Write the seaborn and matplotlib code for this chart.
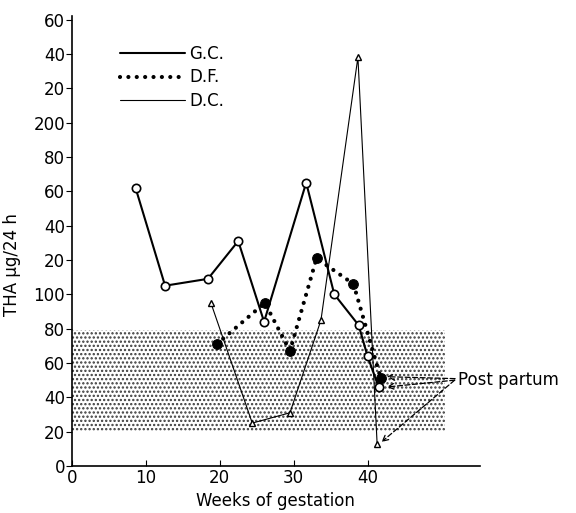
import numpy as np
import pandas as pd
import matplotlib
matplotlib.use("Agg")
import matplotlib.pyplot as plt
from matplotlib.lines import Line2D
from matplotlib.patches import Rectangle
import seaborn as sns

# weeks of gestation / THA (ug per 24 h)
gc_weeks = [8.6, 12.6, 18.4, 22.5, 26.0, 31.7, 35.5, 38.8, 40.0, 41.5]
gc_tha = [162, 105, 109, 131, 84, 165, 100, 82, 64, 46]

df_weeks = [19.6, 26.1, 29.5, 33.1, 38.1, 41.8]
df_tha = [71, 95, 67, 121, 106, 51]

dc_weeks = [18.8, 24.4, 29.5, 33.7, 38.7, 41.3]
dc_tha = [95, 25, 31, 85, 238, 13]

# normal range band
normal_low, normal_high = 20, 79
normal_weeks_end = 50.5

y_ticks = list(range(0, 261, 20))
y_tick_labels = ['0', '20', '40', '60', '80', '100', '20', '40', '60', '80',
                 '200', '20', '40', '60']
x_ticks = [0, 10, 20, 30, 40]

sns.set_style('ticks')
plt.rcParams['font.family'] = ['DejaVu Sans']
plt.rcParams['hatch.linewidth'] = 1.1
for key in ['text.color', 'axes.labelcolor', 'xtick.color', 'ytick.color',
            'axes.edgecolor']:
    plt.rcParams[key] = 'black'

dotted = (0, (0.01, 2.0))

fig = plt.figure(figsize=(5.76, 5.13), dpi=100)
ax = fig.add_axes([0.125, 0.0916, 0.708, 0.877])

ax.add_patch(Rectangle((0, normal_low), normal_weeks_end, normal_high - normal_low,
                       facecolor='white', edgecolor='#3a3a3a', hatch='....',
                       linewidth=0, zorder=0))

sns.lineplot(x=gc_weeks, y=gc_tha, ax=ax, estimator=None, color='black',
             linewidth=1.5, marker='o', markersize=6, markerfacecolor='white',
             markeredgecolor='black', markeredgewidth=1.2, zorder=3)
sns.lineplot(x=df_weeks, y=df_tha, ax=ax, estimator=None, color='black',
             linewidth=3, linestyle=dotted, dash_capstyle='round',
             marker='o', markersize=7,
             markerfacecolor='black', markeredgecolor='black', zorder=4)
sns.lineplot(x=dc_weeks, y=dc_tha, ax=ax, estimator=None, color='black',
             linewidth=0.8, marker='^', markersize=5, markerfacecolor='white',
             markeredgecolor='black', markeredgewidth=1.0, zorder=2)

# post partum annotation
arrow = dict(arrowstyle='->', linestyle=(0, (4, 2)), color='black',
             linewidth=0.9, shrinkA=0, shrinkB=0)
ax.annotate('Post partum', xy=(42.6, 52), xytext=(52.3, 50), fontsize=12,
            ha='left', va='center', arrowprops=arrow)
ax.annotate('', xy=(42.6, 46), xytext=(51.8, 50), arrowprops=arrow)
ax.annotate('', xy=(41.9, 14), xytext=(51.8, 50), arrowprops=arrow)

ax.set_xlim(0, 55.2)
ax.set_ylim(0, 262)
ax.set_xticks(x_ticks)
ax.set_yticks(y_ticks)
ax.set_yticklabels(y_tick_labels)
ax.tick_params(axis='x', direction='in', length=4, labelsize=12, pad=2)
ax.tick_params(axis='y', direction='out', length=4, labelsize=12, pad=1)
sns.despine(ax=ax)
for sp in ax.spines.values():
    sp.set_linewidth(1.2)

ax.set_xlabel('Weeks of gestation', fontsize=12)
ax.set_ylabel('THA µg/24 h', fontsize=12)
ax.yaxis.set_label_coords(-0.125, 0.447)

handles = [Line2D([], [], color='black', linewidth=1.5),
           Line2D([], [], color='black', linewidth=3, linestyle=dotted,
                  dash_capstyle='round'),
           Line2D([], [], color='black', linewidth=0.8)]
ax.legend(handles, ['G.C.', 'D.F.', 'D.C.'], loc='upper left',
          bbox_to_anchor=(0.08, 0.97), frameon=False, fontsize=12,
          handlelength=3.9, handletextpad=0.3, labelspacing=0.35)

fig.savefig('out.png', dpi=100)
